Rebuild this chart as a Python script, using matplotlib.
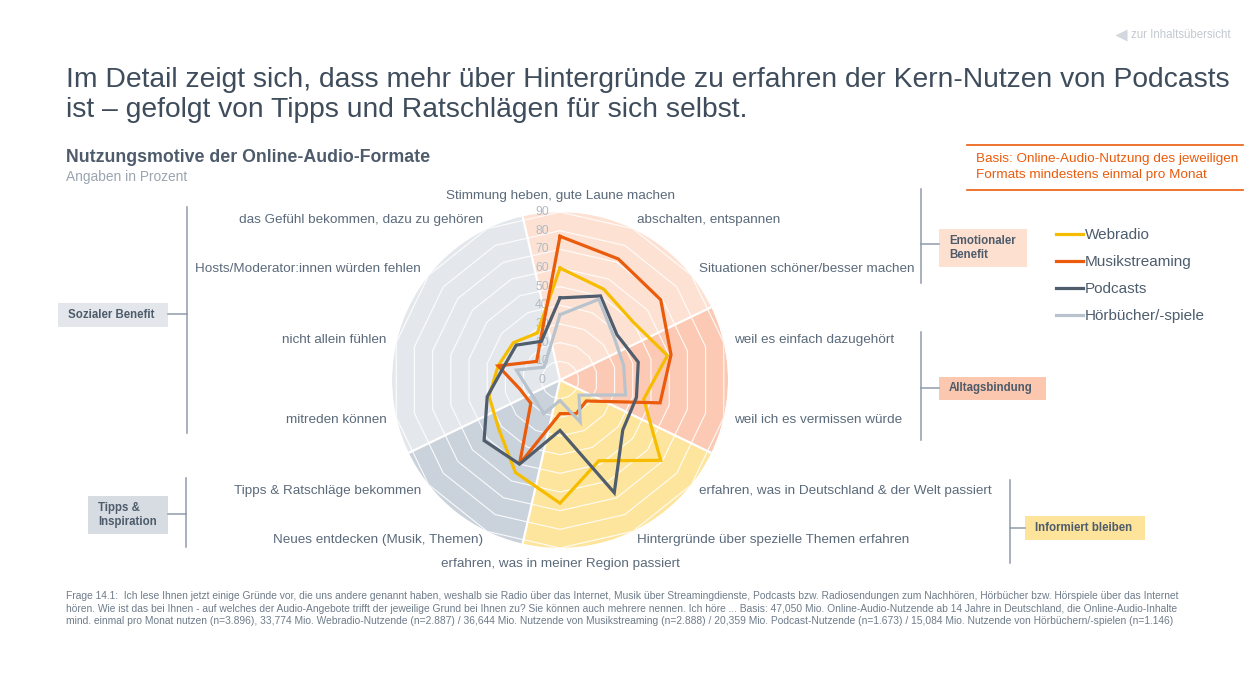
import numpy as np
import matplotlib.pyplot as plt
from matplotlib.lines import Line2D
from matplotlib.patches import Rectangle

plt.rcParams['font.family'] = ['Liberation Sans', 'DejaVu Sans']

# categories, clockwise from the top
categories = [
    "Stimmung heben, gute Laune machen",
    "abschalten, entspannen",
    "Situationen schöner/besser machen",
    "weil es einfach dazugehört",
    "weil ich es vermissen würde",
    "erfahren, was in Deutschland & der Welt passiert",
    "Hintergründe über spezielle Themen erfahren",
    "erfahren, was in meiner Region passiert",
    "Neues entdecken (Musik, Themen)",
    "Tipps & Ratschläge bekommen",
    "mitreden können",
    "nicht allein fühlen",
    "Hosts/Moderator:innen würden fehlen",
    "das Gefühl bekommen, dazu zu gehören",
]

webradio = [60, 54, 50, 59, 46, 69, 48, 66, 55, 42, 39, 34, 32, 28]
musik = [77, 72, 69, 61, 55, 18, 20, 18, 50, 20, 22, 34, 16, 24]
podcasts = [44, 50, 39, 43, 42, 43, 67, 27, 50, 52, 40, 31, 30, 23]
hoerbuecher = [35, 48, 37, 35, 36, 13, 25, 11, 20, 17, 18, 24, 11, 15]

series_names = ["Webradio", "Musikstreaming", "Podcasts", "Hörbücher/-spiele"]

# group index of each category
group_of = [0, 0, 0, 1, 1, 2, 2, 2, 3, 3, 4, 4, 4, 4]
group_names = ["Emotionaler\nBenefit", "Alltagsbindung", "Informiert bleiben",
               "Tipps &\nInspiration", "Sozialer Benefit"]

radial_ticks = [0, 10, 20, 30, 40, 50, 60, 70, 80, 90]

# styles
line_colors = ["#f6bd00", "#ea5b0c", "#4f5d6d", "#b9c3cd"]
sector_colors = ["#fde2d3", "#fccab4", "#fee59d", "#cad2db", "#e4e8ec"]
box_colors = ["#fde0cf", "#fbc7ae", "#fee49a", "#d7dce2", "#e3e7eb"]
text_col = "#5b6a7a"
dark_text = "#3e4c5b"
bracket_col = "#8f9bab"

fig = plt.figure(figsize=(12.6, 6.8), dpi=100)

# overlay in pixel coordinates for texts, boxes and brackets
ov = fig.add_axes([0, 0, 1, 1], zorder=0)
ov.set_xlim(0, 1260)
ov.set_ylim(680, 0)
ov.axis("off")

# titles
ov.text(66, 80, "Im Detail zeigt sich, dass mehr über Hintergründe zu erfahren der Kern-Nutzen von Podcasts",
        fontsize=20.35, color=dark_text, va="center")
ov.text(66, 110, "ist – gefolgt von Tipps und Ratschlägen für sich selbst.",
        fontsize=20.35, color=dark_text, va="center")
ov.text(66, 158, "Nutzungsmotive der Online-Audio-Formate", fontsize=12.8,
        fontweight="bold", color="#4d5b6b", va="center")
ov.text(66, 177, "Angaben in Prozent", fontsize=9.9, color="#9aa5b1", va="center")

# top right link
ov.plot([1121], [35], marker="<", ms=9, color="#d3d8de", mec="none")
ov.text(1131, 35, "zur Inhaltsübersicht", fontsize=8.3, color="#c3c9d0", va="center")

# basis box
ov.plot([967, 1243], [145, 145], color="#ea5b0c", lw=1.2)
ov.plot([967, 1243], [190, 190], color="#ea5b0c", lw=1.2)
ov.text(976, 159, "Basis: Online-Audio-Nutzung des jeweiligen", fontsize=9.7,
        color="#ea5b0c", va="center")
ov.text(976, 175, "Formats mindestens einmal pro Monat", fontsize=9.7,
        color="#ea5b0c", va="center")

# group brackets and boxes: (bracket x, y top, y bottom, tick y, box x0, x1, y0, y1, side)
brackets = [
    (921, 189, 283, 244, 939, 1027, 229, 267, "right"),
    (921, 332, 440, 388, 939, 1046, 377, 400, "right"),
    (1010, 480, 563, 528, 1025, 1145, 516, 540, "right"),
    (186, 478, 547, 514, 88, 168, 496, 534, "left"),
    (187, 207, 433, 314, 58, 168, 303, 327, "left"),
]
for g, (bx, yt, yb, ty, x0, x1, y0, y1, side) in enumerate(brackets):
    ov.plot([bx, bx], [yt, yb], color=bracket_col, lw=1.1)
    if side == "right":
        ov.plot([bx, x0], [ty, ty], color=bracket_col, lw=1.1)
    else:
        ov.plot([x1, bx], [ty, ty], color=bracket_col, lw=1.1)
    ov.add_patch(Rectangle((x0, y0), x1 - x0, y1 - y0, color=box_colors[g], lw=0))
    ov.text(x0 + 10, (y0 + y1) / 2, group_names[g], fontsize=8.3, fontweight="bold",
            color="#4d5b6b", va="center", ha="left", linespacing=1.2)

# footnote
foot = [
    "Frage 14.1:  Ich lese Ihnen jetzt einige Gründe vor, die uns andere genannt haben, weshalb sie Radio über das Internet, Musik über Streamingdienste, Podcasts bzw. Radiosendungen zum Nachhören, Hörbücher bzw. Hörspiele über das Internet",
    "hören. Wie ist das bei Ihnen - auf welches der Audio-Angebote trifft der jeweilige Grund bei Ihnen zu? Sie können auch mehrere nennen. Ich höre ... Basis: 47,050 Mio. Online-Audio-Nutzende ab 14 Jahre in Deutschland, die Online-Audio-Inhalte",
    "mind. einmal pro Monat nutzen (n=3.896), 33,774 Mio. Webradio-Nutzende (n=2.887) / 36,644 Mio. Nutzende von Musikstreaming (n=2.888) / 20,359 Mio. Podcast-Nutzende (n=1.673) / 15,084 Mio. Nutzende von Hörbüchern/-spielen (n=1.146)",
]
for i, line in enumerate(foot):
    ov.text(66, 596 + i * 12.5, line, fontsize=7.4, color="#6f7c8a", va="center")

# radar chart
n = len(categories)
step = 2 * np.pi / n
theta = np.arange(n) * step

ax = fig.add_axes([0.3111, 0.1941, 0.2667, 0.4941], projection="polar", zorder=1)
ax.set_theta_zero_location("N")
ax.set_theta_direction(-1)
ax.set_ylim(0, 90)
ax.axis("off")

# background sectors, one per group
for g in range(len(group_names)):
    idx = [k for k in range(n) if group_of[k] == g]
    start = theta[idx[0]] - step / 2
    ax.bar(start, 90, width=len(idx) * step, bottom=0, align="edge",
           color=sector_colors[g], edgecolor="none", zorder=1)

# polygon grid
closed = np.append(theta, theta[0])
for r in radial_ticks[1:]:
    ax.plot(closed, [r] * (n + 1), color="white", lw=0.8, alpha=0.9, zorder=2)

# dividers between groups
for k in range(n):
    if group_of[k] != group_of[k - 1]:
        a = theta[k] - step / 2
        ax.plot([a, a], [0, 90], color="white", lw=1.6, zorder=3)

# radial tick labels
for r in radial_ticks:
    ax.annotate(str(r), (0, r), xytext=(-13, 0), textcoords="offset points",
                ha="center", va="center", fontsize=8.8, color="#b3bbc5", zorder=4)

# category labels
for k, lab in enumerate(categories):
    s = np.sin(theta[k])
    if abs(s) < 1e-6:
        ax.text(theta[k], 98.5, lab, ha="center", va="center", fontsize=9.7, color=text_col)
    else:
        ax.text(theta[k], 95.4, lab, ha="left" if s > 0 else "right", va="center",
                fontsize=9.7, color=text_col)

# data lines
for vals, name, col in zip([webradio, musik, podcasts, hoerbuecher], series_names, line_colors):
    ax.plot(closed, list(vals) + [vals[0]], color=col, lw=2.3, zorder=5,
            solid_joinstyle="miter")

# legend
handles = [Line2D([0], [0], color=c, lw=2.3) for c in line_colors]
leg = fig.legend(handles, series_names, loc="upper left",
                 bbox_to_anchor=(1056 / 1260, 1 - 228 / 680), frameon=False,
                 fontsize=11, handlelength=1.75, handletextpad=0.12,
                 labelspacing=0.86, borderaxespad=0, borderpad=0)
for t in leg.get_texts():
    t.set_color("#4d5d6d")

fig.savefig("out.png", dpi=100)
